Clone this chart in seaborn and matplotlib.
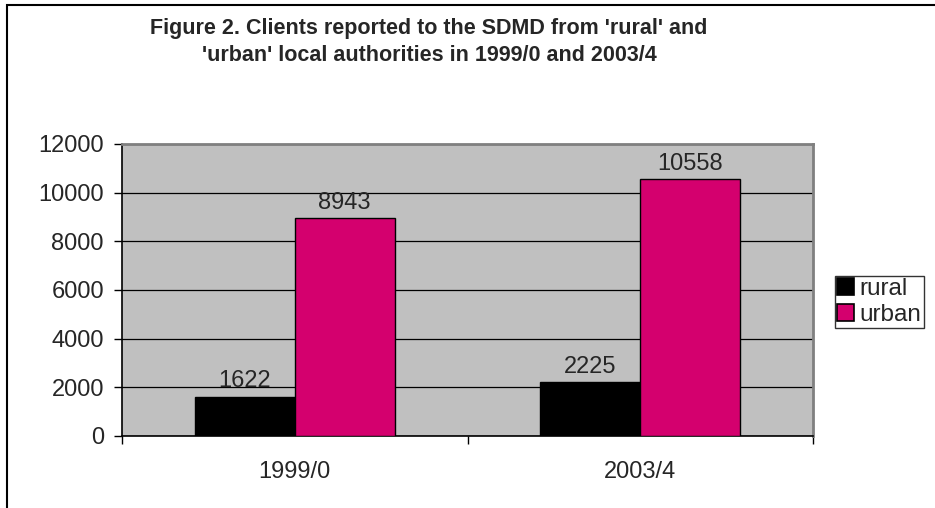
import matplotlib
matplotlib.use("Agg")
import matplotlib.pyplot as plt
import seaborn as sns
import pandas as pd
from matplotlib.patches import Rectangle, Patch

periods = ["1999/0", "2003/4"]
rural = [1622, 2225]
urban = [8943, 10558]
series_names = ["rural", "urban"]
colors = ["#000000", "#D4006E"]
yticks = [0, 2000, 4000, 6000, 8000, 10000, 12000]
title = "Figure 2. Clients reported to the SDMD from 'rural' and\n'urban' local authorities in 1999/0 and 2003/4"

df = pd.DataFrame({
    "period": periods * 2,
    "area": [series_names[0]] * 2 + [series_names[1]] * 2,
    "clients": rural + urban,
})

sns.set_theme(style="white")
plt.rcParams["font.family"] = ["Liberation Sans", "DejaVu Sans"]

FS = 17
fig = plt.figure(figsize=(9.35, 5.08), dpi=100)
W, H = 935, 508
ax = fig.add_axes([122 / W, (H - 436) / H, (813 - 122) / W, (436 - 144) / H])

sns.barplot(data=df, x="period", y="clients", hue="area", order=periods,
            hue_order=series_names, palette=colors, width=0.578,
            edgecolor="black", linewidth=1.0, saturation=1, ax=ax, legend=False, zorder=3)

ax.set_facecolor("#C0C0C0")
ax.set_xlim(-0.5, 1.5)
ax.set_ylim(0, 12000)
ax.set_yticks(yticks)
ax.set_yticklabels([str(v) for v in yticks], fontsize=FS)
ax.yaxis.grid(True, color="black", linewidth=0.9, zorder=1)
ax.set_axisbelow(True)
ax.set_xlabel("")
ax.set_ylabel("")
ax.tick_params(axis="y", direction="out", length=6, width=1, color="black", left=True, pad=7)
ax.set_xticks([0, 1])
ax.set_xticklabels(periods, fontsize=FS)
ax.set_xticks([-0.5, 0.5, 1.5], minor=True)
ax.tick_params(axis="x", which="major", length=0, pad=18)
ax.tick_params(axis="x", which="minor", direction="out", length=6, width=1, color="black", bottom=True)

for s in ["left", "bottom"]:
    ax.spines[s].set_color("black")
    ax.spines[s].set_linewidth(1.2)
for s in ["right", "top"]:
    ax.spines[s].set_color("#808080")
    ax.spines[s].set_linewidth(2)

for container in ax.containers:
    ax.bar_label(container, fmt="%d", fontsize=FS, padding=3)

fig.text(429 / W, 1 - 42 / H, title, ha="center", va="center", fontsize=15.5,
         fontweight="bold", multialignment="center", linespacing=1.4)

handles = [Patch(facecolor=c, edgecolor="black", linewidth=1.2) for c in colors]
leg = fig.legend(handles, series_names, loc="center left",
                 bbox_to_anchor=(835 / W, 1 - 302 / H), fontsize=17.5,
                 frameon=True, fancybox=False, handlelength=0.7, handleheight=0.7,
                 handletextpad=0.2, borderpad=0.1, labelspacing=0.15, borderaxespad=0)
leg.get_frame().set_edgecolor("black")
leg.get_frame().set_linewidth(1)

fig.patches.append(Rectangle((7 / W, -0.1), 1.1, 1.1 - 5 / H, transform=fig.transFigure,
                             fill=False, edgecolor="black", linewidth=1.5))

fig.savefig("out.png", dpi=100)
